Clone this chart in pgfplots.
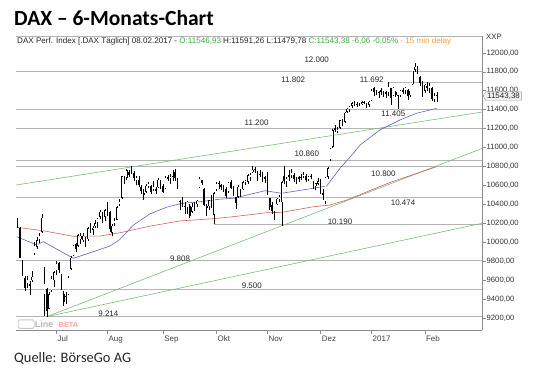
\documentclass[border=0pt]{standalone}
\usepackage{pgfplots}
\pgfplotsset{compat=1.18}
\usepackage{pgfplotstable}
\usepackage{fontspec}
\setmainfont{Liberation Sans}
\newfontfamily\carlito{Carlito}
\usetikzlibrary{shapes.symbols}

\definecolor{supp}{HTML}{B4B4B4}
\definecolor{axgray}{HTML}{8C8C8C}
\definecolor{trend}{HTML}{7DBB7D}
\definecolor{maBlue}{HTML}{6464B8}
\definecolor{maRed}{HTML}{D06060}
\definecolor{hdrGreen}{HTML}{3DAA3D}
\definecolor{hdrOrange}{HTML}{F0A030}

\pgfplotstableread{
i O H L C
-12 10240 10260 10150 10170
-11 10150 10160 9830 9834
-10 9790 9810 9640 9657
-9 9620 9640 9480 9519
-8 9560 9640 9520 9606
-7 9540 9590 9440 9551
-6 9600 9700 9580 9631
-5 9880 10000 9870 9962
-4 9950 10050 9930 10015
-3 10030 10100 9990 10071
-2 10110 10300 10100 10257
-1 9450 9740 9220 9557
0 9500 9520 9214 9269
1 9300 9470 9290 9448
2 9490 9640 9470 9612
3 9600 9700 9530 9680
4 9700 9800 9650 9776
5 9780 9790 9680 9709
6 9640 9660 9500 9532
7 9450 9480 9330 9373
8 9430 9470 9350 9418
9 9450 9640 9440 9629
10 9720 9850 9710 9833
11 9860 9970 9850 9964
12 9980 9990 9900 9930
13 9960 10090 9950 10068
14 10030 10100 9980 10066
15 10020 10100 10000 10064
16 10030 10050 9950 9982
17 10030 10160 10010 10142
18 10150 10200 10100 10156
19 10130 10170 10080 10147
20 10170 10230 10150 10199
21 10210 10260 10150 10247
22 10270 10340 10250 10319
23 10300 10320 10200 10275
24 10270 10350 10220 10337
25 10380 10430 10280 10330
26 10310 10330 10110 10144
27 10100 10190 10070 10170
28 10200 10260 10170 10228
29 10240 10380 10230 10367
30 10400 10460 10380 10432
31 10470 10700 10460 10692
32 10680 10700 10610 10650
33 10680 10770 10660 10754
34 10740 10760 10690 10713
35 10740 10802 10720 10740
36 10730 10750 10650 10676
37 10650 10700 10600 10679
38 10650 10700 10580 10603
39 10580 10600 10510 10544
40 10520 10560 10450 10494
41 10530 10620 10520 10592
42 10590 10640 10570 10622
43 10590 10600 10510 10530
44 10560 10650 10540 10588
45 10560 10580 10510 10544
46 10580 10680 10570 10657
47 10640 10660 10560 10592
48 10590 10620 10520 10534
49 10570 10700 10560 10683
50 10680 10710 10650 10672
51 10670 10720 10620 10687
52 10690 10760 10650 10752
53 10740 10770 10650 10675
54 10660 10680 10560 10573
55 10420 10450 10340 10431
56 10450 10480 10370 10386
57 10380 10420 10300 10379
58 10370 10440 10300 10431
59 10380 10400 10260 10276
60 10320 10410 10310 10373
61 10390 10420 10330 10393
62 10400 10450 10370 10436
63 10580 10690 10570 10674
64 10650 10660 10600 10627
65 10560 10570 10380 10394
66 10380 10400 10280 10361
67 10380 10450 10340 10438
68 10450 10500 10360 10405
69 10290 10530 10190 10511
70 10560 10640 10540 10619
71 10620 10650 10560 10619
72 10600 10620 10550 10585
73 10570 10600 10530 10568
74 10560 10580 10470 10490
75 10530 10640 10520 10624
76 10630 10660 10560 10577
77 10560 10590 10490 10523
78 10470 10480 10350 10414
79 10480 10600 10470 10580
80 10550 10560 10480 10504
81 10560 10650 10550 10631
82 10630 10660 10600 10645
83 10640 10720 10620 10701
84 10680 10730 10650 10711
85 10740 10800 10730 10762
86 10770 10790 10730 10758
87 10730 10750 10650 10709
88 10720 10760 10690 10717
89 10710 10740 10640 10696
90 10680 10700 10630 10665
91 10700 10740 10500 10526
92 10460 10470 10340 10370
93 10390 10420 10300 10325
94 10290 10330 10230 10259
95 10400 10470 10390 10456
96 10450 10500 10420 10482
97 10420 10647 10174 10631
98 10700 10800 10610 10646
99 10640 10690 10580 10668
100 10710 10760 10650 10693
101 10700 10770 10680 10735
102 10710 10730 10640 10663
103 10660 10690 10610 10664
104 10680 10700 10640 10664
105 10680 10720 10660 10682
106 10700 10740 10680 10714
107 10700 10720 10640 10662
108 10660 10700 10650 10689
109 10690 10720 10670 10699
110 10640 10650 10560 10582
111 10590 10630 10550 10620
112 10620 10680 10600 10640
113 10650 10670 10510 10534
114 10500 10560 10450 10513
115 10430 10690 10400 10684
116 10690 10790 10670 10775
117 10870 11000 10860 10987
118 11010 11200 11000 11179
119 11190 11240 11160 11203
120 11170 11220 11150 11190
121 11210 11290 11200 11285
122 11280 11300 11230 11244
123 11270 11380 11260 11366
124 11380 11420 11360 11404
125 11400 11440 11380 11427
126 11440 11480 11420 11464
127 11470 11490 11440 11468
128 11460 11480 11430 11456
129 11450 11470 11440 11449
130 11460 11490 11450 11474
131 11470 11490 11460 11475
132 11460 11470 11420 11451
133 11450 11490 11430 11481
134 11500 11620 11490 11599
135 11620 11640 11540 11584
136 11590 11610 11550 11585
137 11580 11600 11520 11584
138 11590 11630 11560 11599
139 11580 11600 11530 11563
140 11570 11600 11520 11583
141 11580 11692 11540 11646
142 11620 11630 11450 11521
143 11550 11640 11540 11629
144 11580 11600 11530 11555
145 11550 11560 11405 11541
146 11550 11610 11530 11599
147 11590 11630 11570 11599
148 11600 11640 11570 11630
149 11600 11620 11500 11546
150 11550 11600 11530 11595
151 11670 11810 11660 11806
152 11820 11893 11800 11849
153 11840 11860 11780 11814
154 11740 11760 11650 11682
155 11650 11700 11530 11535
156 11600 11670 11580 11659
157 11650 11690 11600 11627
158 11620 11680 11580 11651
159 11630 11640 11490 11509
160 11510 11580 11480 11549
161 11547 11591 11480 11543
}\ohlc

\begin{document}
\begin{tikzpicture}[x=1bp,y=1bp]
\path[use as bounding box] (0,0) rectangle (540,377);
\node[anchor=base west, inner sep=0, font=\carlito\bfseries\fontsize{21.6}{24}\selectfont] at (14,352) {DAX – 6-Monats-Chart};
\node[anchor=base west, inner sep=0, text=black!85, font=\carlito\fontsize{14.5}{17}\selectfont] at (14,15) {Quelle: BörseGo AG};
\node[anchor=west, inner sep=0, text=black!85, font=\fontsize{8.1}{9}\selectfont] at (17,336) {DAX Perf. Index [.DAX Täglich] 08.02.2017 - \textcolor{hdrGreen}{O:11546,93} H:11591,26 L:11479,78 \textcolor{hdrGreen}{C:11543,38 -6,06 -0,05\%} \textcolor{hdrOrange}{- 15 min delay}};
\node[anchor=west, inner sep=0, text=black!80, font=\fontsize{7.8}{9}\selectfont] at (486,340) {XXP};
\draw[supp, line width=0.5bp] (16,341) -- (482,341);

\begin{axis}[
  at={(16bp,47bp)}, anchor=south west,
  width=466bp, height=294bp, scale only axis,
  xmin=-12.7, xmax=179.6, ymin=9073, ymax=12178,
  axis x line=bottom, axis y line=right,
  axis line style={-, draw=axgray, line width=0.6bp},
  tick style={axgray, line width=0.5bp},
  tick align=outside, major tick length=3.5bp,
  xtick={4,25,48,70,91,113,134,156},
  xticklabels={Jul,Aug,Sep,Okt,Nov,Dez,2017,Feb},
  xticklabel style={anchor=north west, font=\fontsize{8}{9}\selectfont, text=black!75, inner sep=1bp, yshift=-1.5bp},
  ytick={9200,9400,...,12000},
  scaled y ticks=false,
  yticklabel style={anchor=west, font=\fontsize{7.7}{9}\selectfont, text=black!80, inner sep=1bp,
    /pgf/number format/.cd, fixed, fixed zerofill, precision=2, use comma, 1000 sep={}},
  /pgf/number format/assume math mode=true,
  clip=true,
]
% support lines
\addplot[supp, line width=0.6bp] coordinates {(-12.7,11802) (179.6,11802)};
\addplot[supp, line width=0.6bp] coordinates {(141,11692) (179.6,11692)};
\addplot[supp, line width=0.6bp] coordinates {(-12.7,11405) (179.6,11405)};
\addplot[supp, line width=0.6bp] coordinates {(-12.7,11200) (179.6,11200)};
\addplot[supp, line width=0.6bp] coordinates {(-12.7,10860) (179.6,10860)};
\addplot[supp, line width=0.6bp] coordinates {(-12.7,10800) (179.6,10800)};
\addplot[supp, line width=0.6bp] coordinates {(-12.7,10474) (179.6,10474)};
\addplot[supp, line width=0.6bp] coordinates {(69,10190) (179.6,10190)};
\addplot[supp, line width=0.6bp] coordinates {(-12.7,9808) (179.6,9808)};
\addplot[supp, line width=0.6bp] coordinates {(-12.7,9500) (179.6,9500)};
\addplot[supp, line width=0.6bp] coordinates {(-12.7,9214) (179.6,9214)};
% trend lines
\addplot[trend, line width=0.6bp] coordinates {(-12.7,10604) (179.6,11375)};
\addplot[trend, line width=0.6bp] coordinates {(0,9214) (179.6,10991)};
\addplot[trend, line width=0.6bp] coordinates {(0,9214) (179.6,10200)};
% moving averages
\addplot[maRed, line width=0.6bp] coordinates {(-12.4,10158) (-1.4,10121) (11.0,10062) (22.0,10065) (30.2,10100) (42.6,10170) (55,10225) (69.4,10250) (77.0,10270) (90.8,10312) (96.9,10315) (110.0,10375) (116.9,10393) (123.8,10446) (141.6,10631) (160.9,10798)};
\addplot[maBlue, line width=0.6bp] coordinates {(-12.4,10058) (-4.1,9971) (-1.4,10006) (11.0,9830) (19.2,9900) (26.1,9960) (30.2,10030) (35.7,10180) (42.6,10300) (49.5,10370) (55.7,10410) (63.2,10428) (71.5,10455) (77.0,10464) (90.1,10544) (96.9,10517) (107.3,10559) (115.5,10594) (121.0,10781) (126.5,10939) (129.3,11027) (137.5,11186) (145.7,11291) (152.6,11362) (160.9,11414)};
% candles: wicks (low to high)
\addplot[black, line width=0.55bp, quiver={u=0, v=\thisrow{H}-\thisrow{L}}]
  table[x=i, y=L] {\ohlc};
% bodies
\addplot[black, line width=1.6bp, quiver={u=0, v={abs(\thisrow{C}-\thisrow{O})+4}}]
  table[x=i, y expr={min(\thisrow{O},\thisrow{C})}] {\ohlc};
% hollow up bodies
\addplot[white, line width=0.6bp, restrict expr to domain={\thisrow{C}-\thisrow{O}}{14:100000},
  quiver={u=0, v={\thisrow{C}-\thisrow{O}-8}}]
  table[x=i, y expr={\thisrow{O}+6}] {\ohlc};
% labels
\begin{scope}[every node/.style={font=\fontsize{8}{9}\selectfont, text=black!85, inner sep=0}]
\node at (axis cs:111.4,11924) {12.000};
\node at (axis cs:101.7,11713) {11.802};
\node at (axis cs:134.1,11713) {11.692};
\node at (axis cs:143.0,11362) {11.405};
\node at (axis cs:86.6,11262) {11.200};
\node at (axis cs:107.3,10932) {10.860};
\node at (axis cs:138.9,10728) {10.800};
\node at (axis cs:147.0,10420) {10.474};
\node at (axis cs:121.0,10217) {10.190};
\node at (axis cs:55.0,9830) {9.808};
\node at (axis cs:84.6,9538) {9.500};
\node at (axis cs:25.4,9242) {9.214};
\end{scope}
% watermark
\draw[gray!45, line width=0.8bp, rounded corners=1.5bp] (axis cs:-11.8,9090) rectangle (axis cs:-5.2,9180);
\node[anchor=west, inner sep=0, text=gray!55, font=\bfseries\fontsize{9}{10}\selectfont] at (axis cs:-5.0,9130) {Line};
\node[anchor=west, inner sep=0, text=red!35, font=\bfseries\fontsize{7.5}{9}\selectfont] at (axis cs:4.8,9130) {BETA};
\end{axis}
% current price tag
\node[signal, signal to=west, signal pointer angle=120, draw=gray!80, fill=gray!12, inner xsep=1.5bp, inner ysep=1bp,
  anchor=west, font=\fontsize{8}{9}\selectfont, text=black!85] at (483,281) {11543,38};
\end{tikzpicture}
\end{document}
